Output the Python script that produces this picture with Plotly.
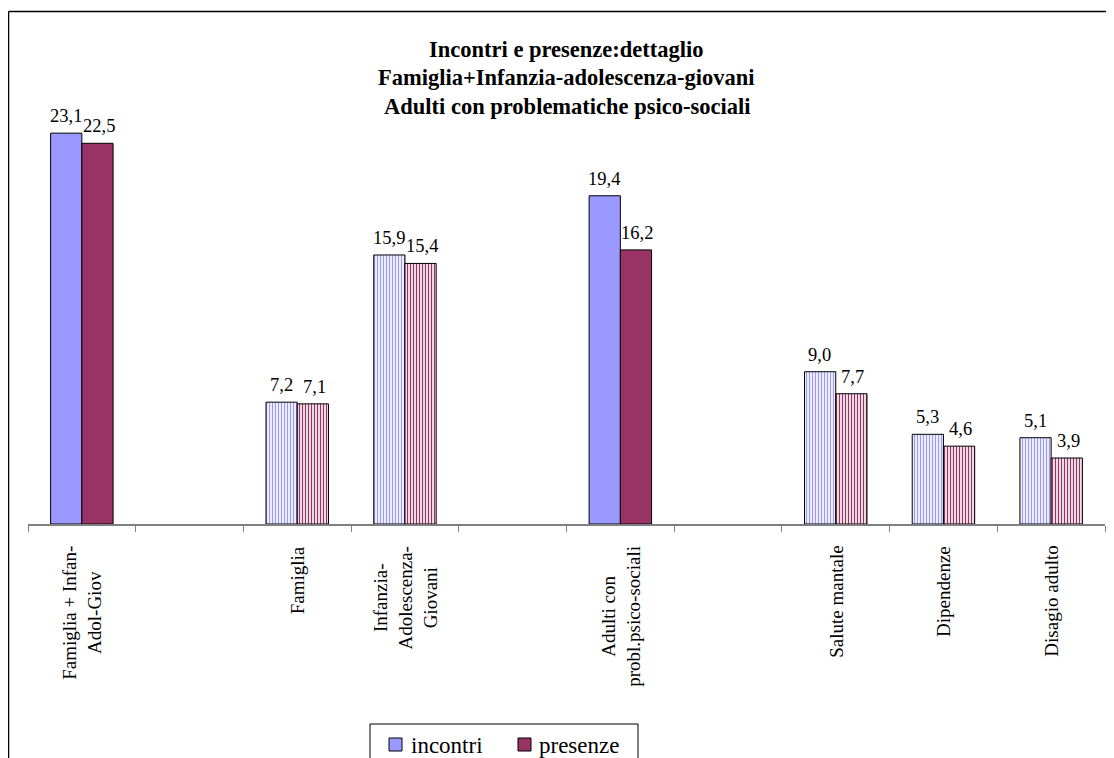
import plotly.graph_objects as go

categories = ["Famiglia + Infan-<br>Adol-Giov", " ", "Famiglia", "Infanzia-<br>Adolescenza-<br>Giovani",
              "  ", "Adulti con<br>probl.psico-sociali", "   ", "Salute mantale", "Dipendenze", "Disagio adulto"]
incontri = [23.1, None, 7.2, 15.9, None, 19.4, None, 9.0, 5.3, 5.1]
presenze = [22.5, None, 7.1, 15.4, None, 16.2, None, 7.7, 4.6, 3.9]
solid = [True, False, False, False, False, True, False, False, False, False]
series_names = ["incontri", "presenze"]
titles = ["Incontri e presenze:dettaglio", "Famiglia+Infanzia-adolescenza-giovani",
          "Adulti con problematiche psico-sociali"]

BLUE = "#9999FF"
RED = "#993366"
FONT = "Liberation Serif"

# page-pixel -> paper helpers (plot area: x 28..1105, y 101..524 in page pixels)
def px(X):
    return (X - 28) / 1077

def py(Y):
    return (524 - Y) / 423

def pattern(color):
    return dict(shape=["" if s else "|" for s in solid], fgcolor=color, bgcolor="white",
                size=3, solidity=0.45, fillmode="replace")

fig = go.Figure()
fig.add_trace(go.Bar(name=series_names[0], x=categories, y=incontri,
                     marker=dict(color=BLUE, line=dict(color="black", width=1), pattern=pattern(BLUE))))
fig.add_trace(go.Bar(name=series_names[1], x=categories, y=presenze,
                     marker=dict(color=RED, line=dict(color="black", width=1), pattern=pattern(RED))))

def fmt(v):
    return f"{v:.1f}".replace(".", ",")

# value labels
for vals, dx in ((incontri, -16), (presenze, 17)):
    for c, v in zip(categories, vals):
        if v is None:
            continue
        fig.add_annotation(x=c, y=v, text=fmt(v), showarrow=False, xshift=dx, yshift=5,
                           yanchor="bottom", font=dict(family=FONT, size=18.5, color="black"))

# category labels (rotated, centred lines)
for c in categories:
    if not c.strip():
        continue
    fig.add_annotation(x=c, y=py(544), yref="paper", text=c, showarrow=False, textangle=-90,
                       yanchor="top", xanchor="center", align="center",
                       font=dict(family=FONT, size=19, color="black"))

# title lines
for Y, t in zip((49, 77.5, 106), titles):
    fig.add_annotation(xref="paper", yref="paper", x=0.5, y=py(Y),
                       text=f"<b>{t}</b>", showarrow=False, xanchor="center", yanchor="middle",
                       font=dict(family=FONT, size=22.5, color="black"))

# outer chart frame (left and top edges visible)
frame = dict(color="black", width=1.5)
fig.add_shape(type="line", xref="paper", yref="paper", x0=px(8.5), x1=px(8.5), y0=py(11.5), y1=py(800), line=frame)
fig.add_shape(type="line", xref="paper", yref="paper", x0=px(8.5), x1=px(1140), y0=py(11.5), y1=py(11.5), line=frame)

# legend box (cut by bottom edge as in reference)
lb = dict(color="black", width=1)
fig.add_shape(type="line", xref="paper", yref="paper", x0=px(370), x1=px(638), y0=py(724), y1=py(724), line=lb)
fig.add_shape(type="line", xref="paper", yref="paper", x0=px(370), x1=px(370), y0=py(724), y1=py(800), line=lb)
fig.add_shape(type="line", xref="paper", yref="paper", x0=px(638), x1=px(638), y0=py(724), y1=py(800), line=lb)
for (sx, tx), col, name in zip(((389, 409), (518, 537)), (BLUE, RED), series_names):
    fig.add_shape(type="rect", xref="paper", yref="paper", x0=px(sx), x1=px(sx + 13), y0=py(738), y1=py(751),
                  fillcolor=col, line=dict(color="black", width=1))
    fig.add_annotation(xref="paper", yref="paper", x=px(tx), y=py(745), text=name, showarrow=False,
                       xanchor="left", yanchor="middle", font=dict(family=FONT, size=23, color="black"))

fig.update_layout(
    width=1106, height=750,
    margin=dict(l=20, r=9, t=93, b=234),
    paper_bgcolor="white", plot_bgcolor="white",
    barmode="group", bargap=0.42, bargroupgap=0,
    font=dict(family=FONT, color="black"),
    showlegend=False,
    xaxis=dict(type="category", tickson="boundaries", ticks="outside", ticklen=6, showticklabels=False,
               tickcolor="#808080", showline=True, linecolor="#808080", linewidth=1.5, showgrid=False),
    yaxis=dict(range=[0, 25], visible=False, showgrid=False),
)

fig.write_html("out.html")
